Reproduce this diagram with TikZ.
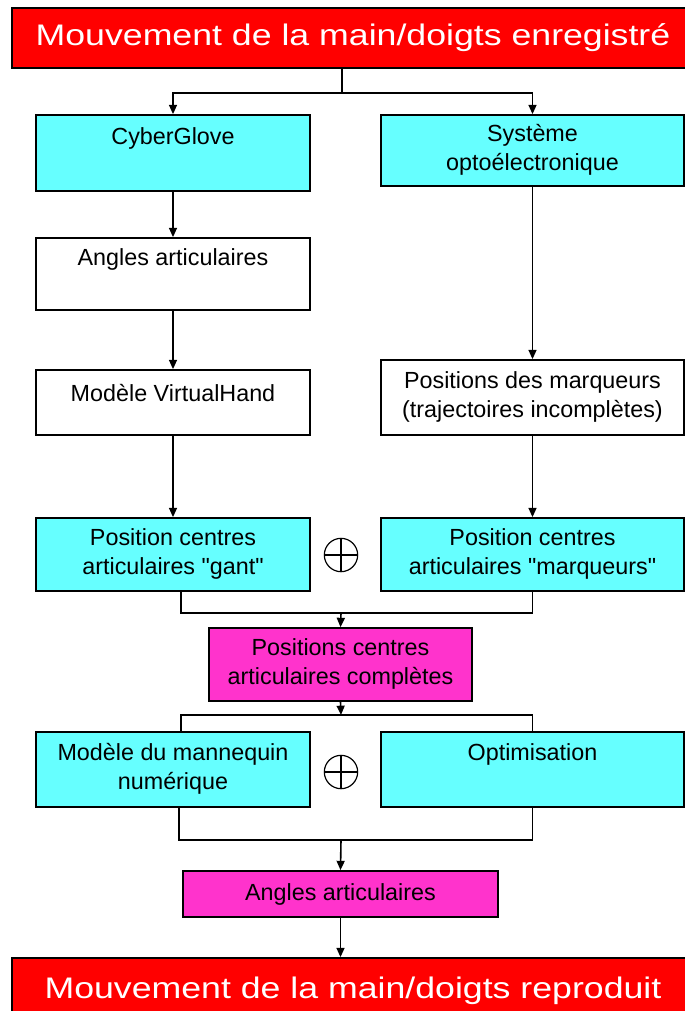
\documentclass[tikz,border=0pt]{standalone}
\usepackage{fontspec}
\setmainfont{Liberation Sans}
\newfontfamily\titlefont[FakeStretch=1.2]{Liberation Sans}
\usetikzlibrary{arrows.meta, positioning, calc}
\definecolor{flowred}{RGB}{255,0,0}
\definecolor{flowcyan}{RGB}{102,255,255}
\definecolor{flowpink}{RGB}{255,51,204}
\tikzset{
  box/.style={draw=black, line width=1.3pt, inner sep=0pt, align=center,
              font=\fontsize{17.5}{21.75}\selectfont},
  cyanbox/.style={box, fill=flowcyan},
  whitebox/.style={box, fill=white},
  pinkbox/.style={box, fill=flowpink},
  titlebox/.style={draw=black, line width=1.3pt, fill=flowred, inner sep=0pt,
                   text=white, font=\titlefont\fontsize{22.3}{26}\selectfont},
  flow/.style={line width=1.2pt, -{Triangle[length=7pt, width=6pt]}},
  link/.style={line width=1.2pt},
  oplus/.style={circle, draw, line width=0.9pt, minimum size=25pt, inner sep=0pt,
    path picture={\draw[line width=0.9pt]
      (path picture bounding box.west) -- (path picture bounding box.east)
      (path picture bounding box.north) -- (path picture bounding box.south);}}
}
\begin{document}
\begin{tikzpicture}[x=0.75pt, y=-0.75pt]
\useasboundingbox (0,0) rectangle (685,1011);
\fill[white] (0,0) rectangle (685,1011);

%% INPUT – recorded movement
\node[titlebox, minimum width=511.5pt, minimum height=45pt] (rec)
  at (353,38) {Mouvement de la main/doigts enregistré};

%% LEFT BRANCH – glove
\node[cyanbox, minimum width=205.5pt, minimum height=57pt] (glove)
  at (173,153) {\strut CyberGlove\\\strut};
\node[whitebox, minimum width=205.5pt, minimum height=54pt] (angA)
  at (173,274) {\strut Angles articulaires\\\strut};
\node[whitebox, minimum width=205.5pt, minimum height=48.75pt] (vhand)
  at (173,402.5) {\strut Modèle VirtualHand\\[-12pt]\strut};
\node[cyanbox, minimum width=205.5pt, minimum height=54.75pt] (gant)
  at (173,554.5) {\strut Position centres\\\strut articulaires \textquotedbl gant\textquotedbl};

%% RIGHT BRANCH – markers
\node[cyanbox, minimum width=227.25pt, minimum height=53.25pt] (opto)
  at (532.5,150.5) {\strut Système\\\strut optoélectronique};
\node[whitebox, minimum width=227.25pt, minimum height=56.25pt] (marq)
  at (532.5,397.5) {\strut Positions des marqueurs\\\strut (trajectoires incomplètes)};
\node[cyanbox, minimum width=227.25pt, minimum height=54.75pt] (marqc)
  at (532.5,554.5) {\strut Position centres\\\strut articulaires \textquotedbl marqueurs\textquotedbl};
\node[oplus] (plusA) at (341,555) {};

%% FUSION
\node[pinkbox, minimum width=197.25pt, minimum height=54.75pt] (full)
  at (340.5,664.5) {\strut Positions centres\\\strut articulaires complètes};
\node[cyanbox, minimum width=205.5pt, minimum height=56.25pt] (manq)
  at (173,769.5) {\strut Modèle du mannequin\\\strut numérique};
\node[cyanbox, minimum width=227.25pt, minimum height=56.25pt] (optim)
  at (532.5,769.5) {\strut Optimisation\\\strut};
\node[oplus] (plusB) at (341,772) {};
\node[pinkbox, minimum width=236.25pt, minimum height=34.5pt] (angB)
  at (340.5,894) {Angles articulaires};

%% OUTPUT – reproduced movement
\node[titlebox, minimum width=511.5pt, minimum height=49.5pt] (rep)
  at (353,991) {Mouvement de la main/doigts reproduit};

%% connectors
\coordinate (split) at (342,93);
\draw[link] (rec.south -| split) -- (split);
\draw[flow] (split) -| (glove.north);
\draw[flow] (split) -| (opto.north);
\draw[flow] (glove) -- (angA);
\draw[flow] (angA) -- (vhand);
\draw[flow] (vhand) -- (gant);
\draw[flow] (opto) -- (marq);
\draw[flow] (marq) -- (marqc);

\coordinate (mergeA) at (341,613);
\draw[link] ([xshift=6pt]gant.south) |- (mergeA) -| (marqc.south);
\draw[flow] (mergeA) -- (full.north);

\coordinate (splitB) at (341,715);
\draw[flow] (full.south) -- (splitB);
\draw[link] ([xshift=6pt]manq.north) |- (splitB) -| (optim.north);

\coordinate (mergeB) at (341,840);
\draw[link] ([xshift=4.5pt]manq.south) |- (mergeB) -| (optim.south);
\draw[flow] (mergeB) -- (angB.north);
\draw[flow] (angB.south) -- (angB.south |- rep.north);
\end{tikzpicture}
\end{document}
